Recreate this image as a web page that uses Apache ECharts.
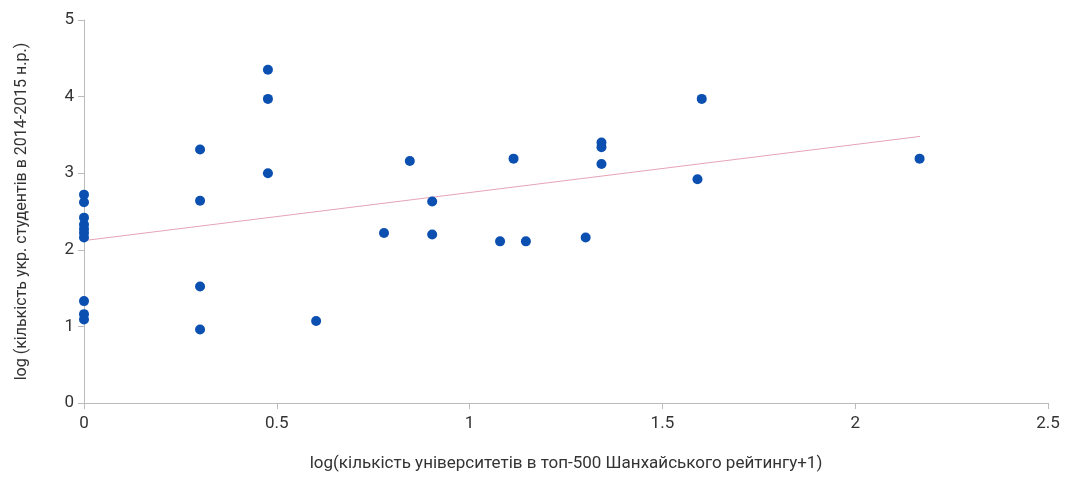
<!DOCTYPE html>
<html>
<head>
<meta charset="utf-8">
<script src="https://cdn.jsdelivr.net/npm/echarts@6/dist/echarts.min.js"></script>
<style>
  html, body { margin: 0; padding: 0; background: #fff; }
  #main { width: 1066px; height: 477px; }
</style>
</head>
<body>
<div id="main"></div>
<script>
// точки: log(кількість університетів+1), log(кількість студентів)
var xVals = [
  0, 0, 0, 0, 0, 0, 0, 0, 0, 0,
  0.301, 0.301, 0.301, 0.301,
  0.477, 0.477, 0.477,
  0.602,
  0.778, 0.845, 0.903, 0.903,
  1.079, 1.114, 1.146, 1.301,
  1.342, 1.342, 1.342,
  1.591, 1.602,
  2.167
];
var yVals = [
  2.72, 2.62, 2.42, 2.33, 2.27, 2.22, 2.16, 1.33, 1.16, 1.09,
  3.31, 2.64, 1.52, 0.96,
  4.35, 3.97, 3.00,
  1.07,
  2.22, 3.16, 2.63, 2.20,
  2.11, 3.19, 2.11, 2.16,
  3.40, 3.34, 3.12,
  2.92, 3.97,
  3.19
];
// лінія тренду
var trendX = [0, 2.168];
var trendY = [2.12, 3.48];

var points = xVals.map(function(x, i) { return [x, yVals[i]]; });
var trend = trendX.map(function(x, i) { return [x, trendY[i]]; });

var myChart = echarts.init(document.getElementById('main'));
var option = {
  animation: false,
  grid: { left: 84, right: 18, top: 20, bottom: 73 },
  xAxis: {
    type: 'value',
    min: 0, max: 2.5, interval: 0.5,
    name: 'log(кількість університетів в топ-500 Шанхайського рейтингу+1)',
    nameLocation: 'middle',
    nameGap: 52,
    nameTextStyle: { color: '#333', fontSize: 17, fontFamily: 'Roboto' },
    axisLine: { show: true, lineStyle: { color: '#bbb' } },
    axisTick: { show: true, length: 6, lineStyle: { color: '#bbb' } },
    axisLabel: { color: '#333', fontSize: 17, fontFamily: 'Roboto', margin: 12 },
    splitLine: { show: false }
  },
  yAxis: {
    type: 'value',
    min: 0, max: 5, interval: 1,
    name: 'log (кількість укр. студентів в 2014-2015 н.р.)',
    nameLocation: 'middle',
    nameGap: 54,
    nameTextStyle: { color: '#333', fontSize: 16, fontFamily: 'Roboto' },
    axisLine: { show: true, lineStyle: { color: '#bbb' } },
    axisTick: { show: true, length: 6, lineStyle: { color: '#bbb' } },
    axisLabel: { color: '#333', fontSize: 17, fontFamily: 'Roboto', margin: 10 },
    splitLine: { show: false }
  },
  series: [
    {
      type: 'line',
      data: trend,
      symbol: 'none',
      lineStyle: { color: '#e6a3b6', width: 1 },
      z: 1
    },
    {
      type: 'scatter',
      data: points,
      symbolSize: 10,
      itemStyle: { color: '#0b4fb0', opacity: 1 },
      z: 2
    }
  ]
};
myChart.setOption(option);
</script>
</body>
</html>
